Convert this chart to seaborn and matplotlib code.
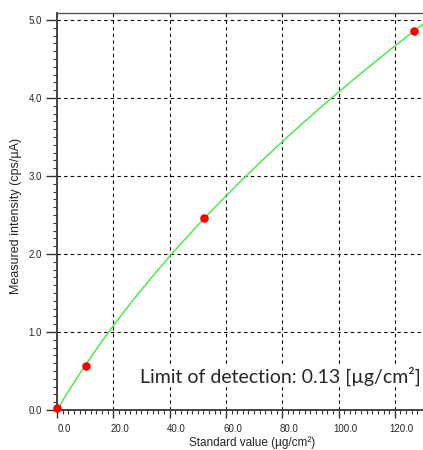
import matplotlib
matplotlib.use('Agg')
import matplotlib.pyplot as plt
import matplotlib.transforms as mtransforms
from matplotlib.ticker import MultipleLocator
import numpy as np
import pandas as pd
import seaborn as sns

# standard samples
standard_value = [0.0, 10.3, 52.2, 126.9]
measured_intensity = [0.02, 0.56, 2.46, 4.86]
x_ticks = [0, 20, 40, 60, 80, 100, 120]
y_ticks = [0, 1, 2, 3, 4, 5]
lod_text = 'Limit of detection: 0.13 [µg/cm²]'

df = pd.DataFrame({'std': standard_value, 'meas': measured_intensity})

# calibration curve: concentration as a quadratic in intensity, fitted to the standards
coef = np.polyfit(df['meas'], df['std'], 2)
curve = pd.DataFrame({'meas': np.linspace(0, 5.09, 200)})
curve['std'] = np.polyval(coef, curve['meas'])

sns.set_style('ticks')
plt.rcParams['font.family'] = ['Liberation Sans', 'DejaVu Sans']

fig = plt.figure(figsize=(4.23, 4.5), dpi=100)
ax = fig.add_axes([57 / 423, 40 / 450, 1 - 57 / 423, 397 / 450])

sns.lineplot(data=curve, x='std', y='meas', orient='y', sort=False, ax=ax,
             color='#3cec3c', lw=1.0, zorder=4)
sns.scatterplot(data=df, x='std', y='meas', ax=ax, s=38, color='#ff0000',
                linewidth=0, zorder=5, clip_on=False)
ax.set_xlim(0, 130)
ax.set_ylim(0, 5.09)

ax.set_xticks(x_ticks)
ax.set_xticklabels([f'{v:.1f}' for v in x_ticks])
ax.set_yticks(y_ticks)
ax.set_yticklabels([f'{v:.1f}' for v in y_ticks])
ax.xaxis.set_minor_locator(MultipleLocator(2))
ax.yaxis.set_minor_locator(MultipleLocator(0.1))
ax.tick_params(axis='x', which='major', length=6, width=1, labelsize=7, pad=4, color='#333333')
ax.tick_params(axis='y', which='major', length=8, width=1, labelsize=7, pad=3, color='#333333')
ax.tick_params(which='minor', length=3, width=0.8, color='#333333')

# shift x tick labels a little right like the original software
off = mtransforms.ScaledTranslation(7 / 100, 0, fig.dpi_scale_trans)
for lab in ax.get_xticklabels():
    lab.set_transform(lab.get_transform() + off)

ax.grid(True, which='major', color='black', linestyle=(0, (3, 3)), lw=0.8)
ax.set_axisbelow(True)
ax.spines['right'].set_visible(False)
for s in ['left', 'bottom']:
    ax.spines[s].set_linewidth(1.4)
    ax.spines[s].set_color('#444444')
ax.spines['top'].set_linewidth(1.0)
ax.spines['top'].set_color('#555555')

ax.set_xlabel('Standard value (µg/cm²)', fontsize=8.5)
ax.set_ylabel('Measured intensity (cps/µA)', fontsize=9)
ax.xaxis.set_label_coords(0.533, -0.066)
ax.yaxis.set_label_coords(-0.095, 0.49)

ax.text(0.995, 0.085, lod_text, transform=ax.transAxes, ha='right', va='center',
        fontsize=14, family=['Lato', 'DejaVu Sans'],
        bbox=dict(facecolor='white', edgecolor='none', pad=1), zorder=6)

# clipped title fragment at the top edge
fig.text(352 / 423, 1 + 3 / 450, 'µg', fontsize=13, family=['Lato', 'DejaVu Sans'],
         va='baseline', ha='left')

fig.savefig('out.png', dpi=100)
